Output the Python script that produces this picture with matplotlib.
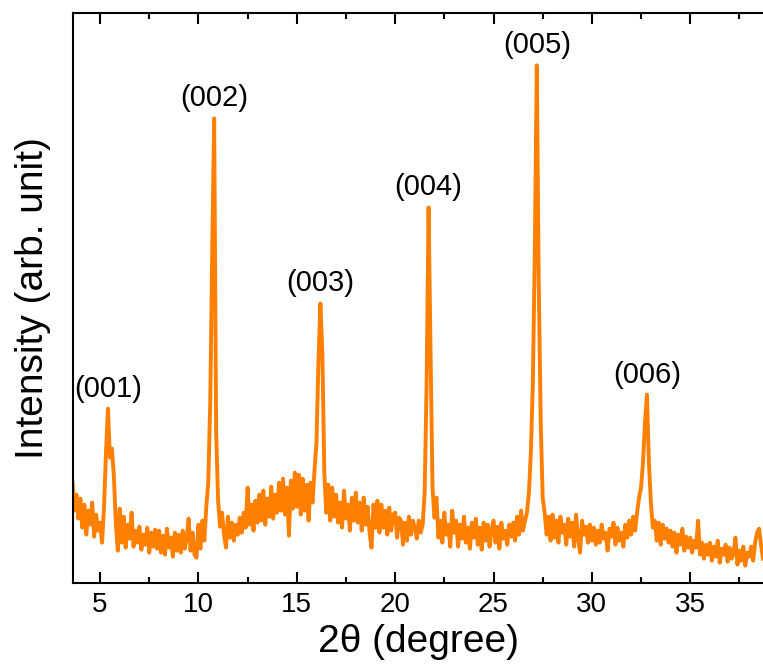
import numpy as np
import matplotlib
matplotlib.use('Agg')
import matplotlib.pyplot as plt
from matplotlib.ticker import MultipleLocator

plt.rcParams['font.family'] = ['Liberation Sans', 'DejaVu Sans']

#%% Data (2theta in 0.1 degree steps, intensity in arb. unit)
two_theta_start = 3.6
two_theta_step = 0.1

intensity = [
    # 3.6 - 3.9
    100, 72, 88, 64,
    # 4.0 - 4.9
    84, 55, 78, 48, 72, 58, 80, 46, 68, 52,
    # 5.0 - 5.9
    60, 40, 75, 130, 174, 125, 134, 107, 60, 32,
    # 6.0 - 6.9
    74, 40, 66, 35, 58, 44, 70, 36, 52, 40,
    # 7.0 - 7.9
    56, 33, 48, 38, 55, 30, 50, 36, 53, 34,
    # 8.0 - 8.9
    52, 30, 47, 28, 54, 35, 45, 26, 50, 32,
    # 9.0 - 9.9
    48, 30, 52, 34, 44, 64, 32, 50, 28, 25,
    # 10.0 - 10.9
    58, 34, 62, 42, 76, 100, 180, 330, 464, 150,
    # 11.0 - 11.9
    82, 56, 70, 48, 35, 66, 45, 60, 42, 58,
    # 12.0 - 12.9
    48, 65, 50, 70, 55, 95, 58, 78, 52, 82,
    # 13.0 - 13.9
    60, 88, 62, 92, 58, 84, 66, 96, 64, 88,
    # 14.0 - 14.9
    70, 100, 72, 104, 68, 95, 47, 102, 74, 110,
    # 15.0 - 15.9
    76, 108, 68, 104, 72, 98, 62, 100, 80, 112,
    # 16.0 - 16.9
    140, 220, 279, 230, 110, 70, 98, 62, 95, 66,
    # 17.0 - 17.9
    88, 60, 80, 55, 92, 64, 78, 52, 85, 62,
    # 18.0 - 18.9
    90, 60, 80, 52, 85, 58, 76, 50, 35, 78,
    # 19.0 - 19.9
    55, 82, 50, 78, 55, 72, 48, 75, 52, 68,
    # 20.0 - 20.9
    70, 45, 65, 62, 38, 60, 42, 66, 48, 62,
    # 21.0 - 21.9
    55, 44, 62, 50, 58, 90, 200, 375, 230, 95,
    # 22.0 - 22.9
    65, 85, 45, 62, 40, 70, 48, 58, 36, 72,
    # 23.0 - 23.9
    50, 62, 36, 58, 44, 66, 40, 55, 34, 60,
    # 24.0 - 24.9
    45, 64, 38, 55, 33, 60, 42, 58, 36, 52,
    # 25.0 - 25.9
    62, 40, 56, 34, 60, 44, 52, 38, 58, 46,
    # 26.0 - 26.9
    60, 42, 66, 48, 72, 52, 62, 70, 90, 130,
    # 27.0 - 27.9
    200, 330, 517, 300, 160, 85, 70, 48, 66, 42,
    # 28.0 - 28.9
    68, 45, 62, 40, 66, 50, 58, 38, 64, 46,
    # 29.0 - 29.9
    60, 36, 68, 44, 30, 62, 48, 56, 40, 58,
    # 30.0 - 30.9
    42, 55, 38, 52, 40, 58, 44, 50, 32, 54,
    # 31.0 - 31.9
    46, 60, 38, 55, 42, 50, 36, 58, 45, 62,
    # 32.0 - 32.9
    48, 66, 52, 70, 85, 95, 120, 160, 188, 120,
    # 33.0 - 33.9
    80, 55, 62, 42, 60, 38, 58, 44, 54, 40,
    # 34.0 - 34.9
    52, 36, 50, 30, 48, 38, 54, 32, 46, 35,
    # 35.0 - 35.9
    45, 30, 42, 35, 62, 28, 40, 24, 38, 28,
    # 36.0 - 36.9
    40, 22, 36, 26, 42, 20, 34, 28, 38, 21,
    # 37.0 - 37.9
    35, 24, 30, 45, 18, 32, 22, 36, 17, 30,
    # 38.0 - 38.7
    26, 36, 22, 40, 50, 54, 38, 24,
]

peak_labels = ['(001)', '(002)', '(003)', '(004)', '(005)', '(006)']
peak_pos = [5.4, 10.8, 16.2, 21.7, 27.2, 32.8]

two_theta = two_theta_start + two_theta_step * np.arange(len(intensity))
intensity = np.array(intensity, dtype=float)

#%% plot
fig = plt.figure(figsize=(7.63, 6.68), dpi=100)
ax = fig.add_axes([0.0961, 0.1277, 0.9039, 0.8524])

ax.plot(two_theta, intensity, color='#FF7F00', lw=2.8)

# Peak labels just above each reflection
for label, pos in zip(peak_labels, peak_pos):
    idx = np.argmin(np.abs(two_theta - pos))
    top = intensity[max(idx - 1, 0):idx + 2].max()
    ax.text(two_theta[idx], top + 6, label, ha='center', va='bottom',
            fontsize=21)

ax.set_xlim(3.64, 38.7)
ax.set_ylim(0, 569)

ax.xaxis.set_major_locator(MultipleLocator(5))
ax.xaxis.set_minor_locator(MultipleLocator(2.5))
ax.set_yticks([])

ax.tick_params(axis='x', which='both', direction='in', top=True,
               labeltop=False, labelsize=20, pad=7, width=1.5)
ax.tick_params(axis='x', which='major', length=8)
ax.tick_params(axis='x', which='minor', length=4.5)

for side in ['left', 'top', 'bottom']:
    ax.spines[side].set_linewidth(1.5)
ax.spines['right'].set_visible(False)

ax.set_xlabel('2θ (degree)', fontsize=28, labelpad=4)
ax.set_ylabel('Intensity (arb. unit)', fontsize=28, labelpad=16)

fig.savefig('out.png', dpi=100)
